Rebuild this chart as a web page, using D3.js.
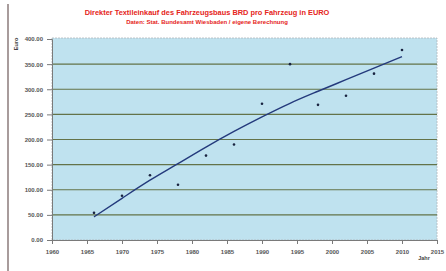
<!DOCTYPE html>
<html>
<head>
<meta charset="utf-8">
<script src="https://cdn.jsdelivr.net/npm/d3@7"></script>
<style>
  body { margin: 0; background: #fff; }
  svg { display: block; font-family: Arial, "Liberation Sans", sans-serif; }
</style>
</head>
<body>
<svg width="446" height="271"></svg>
<script>
// data
var years = [1966, 1970, 1974, 1978, 1982, 1986, 1990, 1994, 1998, 2002, 2006, 2010];
var euro = [54, 88, 129, 110, 168, 190, 271, 350, 269, 287, 331, 378];
var trend = [46, 83, 119, 152, 185, 216, 245, 272, 296, 319, 342, 365];
var xTicks = [1960, 1965, 1970, 1975, 1980, 1985, 1990, 1995, 2000, 2005, 2010, 2015];
var yTicks = [0, 50, 100, 150, 200, 250, 300, 350, 400];

var svg = d3.select('svg');
var plotLeft = 52, plotRight = 437, plotTop = 39, plotBottom = 240;

var x = d3.scaleLinear().domain([1960, 2015]).range([plotLeft, plotRight]);
var y = d3.scaleLinear().domain([0, 400]).range([plotBottom, plotTop]);

// scan edge on the left
svg.append('line')
  .attr('x1', 8).attr('x2', 8).attr('y1', 4).attr('y2', 271)
  .attr('stroke', '#6e5a5a').attr('stroke-width', 1.2);

// plot area
svg.append('rect')
  .attr('x', plotLeft).attr('y', plotTop - 1)
  .attr('width', plotRight - plotLeft).attr('height', plotBottom - plotTop + 1)
  .attr('fill', '#bfe2ef')
  .attr('stroke', '#b0b8bc').attr('stroke-width', 0.8)
  .attr('stroke-dasharray', '2,1');

// gridlines
svg.append('g').selectAll('line')
  .data(yTicks.filter(function(d) { return d > 0 && d < 400; }))
  .enter().append('line')
  .attr('x1', plotLeft).attr('x2', plotRight)
  .attr('y1', function(d) { return y(d); })
  .attr('y2', function(d) { return y(d); })
  .attr('stroke', '#637349').attr('stroke-width', 1.1);

// axes
var yAxis = svg.append('g')
  .attr('transform', 'translate(' + plotLeft + ',0)')
  .call(d3.axisLeft(y).tickValues(yTicks).tickSize(5).tickPadding(4)
    .tickFormat(function(d) { return d3.format('.2f')(d); }));
var xAxis = svg.append('g')
  .attr('transform', 'translate(0,' + plotBottom + ')')
  .call(d3.axisBottom(x).tickValues(xTicks).tickSize(4).tickPadding(6)
    .tickFormat(d3.format('d')));

[yAxis, xAxis].forEach(function(a) {
  a.select('.domain').attr('stroke', '#7a7a7a');
  a.selectAll('.tick line').attr('stroke', '#7a7a7a');
  a.selectAll('text')
    .attr('fill', '#555')
    .attr('font-size', 6)
    .attr('font-weight', 'bold')
    .attr('font-family', 'Arial, "Liberation Sans", sans-serif');
});

// trend line
var line = d3.line()
  .x(function(d, i) { return x(years[i]); })
  .y(function(d) { return y(d); })
  .curve(d3.curveMonotoneX);

svg.append('path')
  .datum(trend)
  .attr('d', line)
  .attr('fill', 'none')
  .attr('stroke', '#243a7c')
  .attr('stroke-width', 1.4);

// points
svg.append('g').selectAll('circle')
  .data(euro)
  .enter().append('circle')
  .attr('cx', function(d, i) { return x(years[i]); })
  .attr('cy', function(d) { return y(d); })
  .attr('r', 1.3)
  .attr('fill', '#1a2440');

// titles
svg.append('text')
  .attr('x', 207).attr('y', 15)
  .attr('text-anchor', 'middle')
  .attr('font-size', 7.4).attr('font-weight', 'bold')
  .attr('fill', '#e52420')
  .text('Direkter Textileinkauf des Fahrzeugsbaus BRD pro Fahrzeug in EURO');
svg.append('text')
  .attr('x', 207).attr('y', 24)
  .attr('text-anchor', 'middle')
  .attr('font-size', 6).attr('font-weight', 'bold')
  .attr('fill', '#e52420')
  .text('Daten: Stat. Bundesamt Wiesbaden / eigene Berechnung');

svg.append('text')
  .attr('transform', 'translate(18,44) rotate(-90)')
  .attr('text-anchor', 'middle')
  .attr('font-size', 5.5).attr('font-weight', 'bold')
  .attr('fill', '#444')
  .text('Euro');

svg.append('text')
  .attr('x', 424).attr('y', 260)
  .attr('text-anchor', 'middle')
  .attr('font-size', 5.5).attr('font-weight', 'bold')
  .attr('fill', '#444')
  .text('Jahr');
</script>
</body>
</html>
